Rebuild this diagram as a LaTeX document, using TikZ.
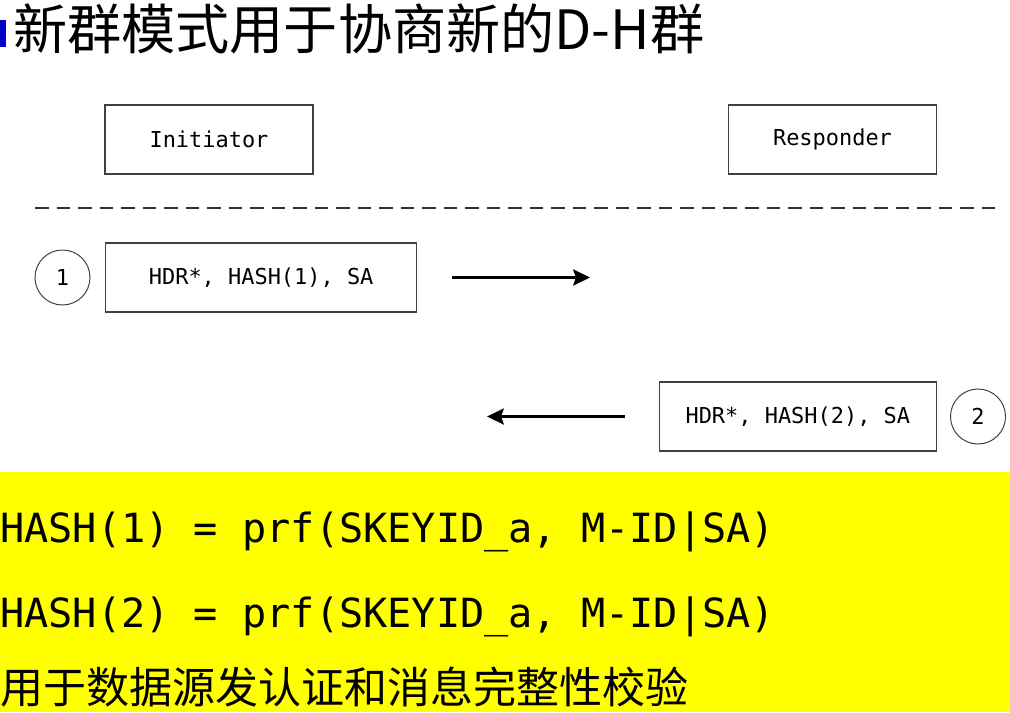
\documentclass[tikz,border=0pt]{standalone}
\usepackage{fontspec}
\setmonofont{DejaVu Sans Mono}
\newfontfamily\cjk{Noto Sans CJK SC}
\usetikzlibrary{arrows.meta}
\definecolor{notebg}{RGB}{255,255,0}
\definecolor{barblue}{RGB}{0,0,200}

\begin{document}
\begin{tikzpicture}[x=0.025cm, y=-0.025cm,
    box/.style={rectangle, draw=black!75, line width=0.9pt, minimum height=1.725cm, inner sep=0pt, font=\ttfamily\fontsize{15.6}{18}\selectfont},
    num/.style={circle, draw=black!75, line width=0.7pt, minimum size=1.375cm, inner sep=0pt, font=\ttfamily\fontsize{15.6}{18}\selectfont},
    msg/.style={-{Stealth[length=12pt, width=11.5pt, inset=2pt]}, line width=1.5pt},
    formula/.style={anchor=base west, inner sep=0pt, font=\ttfamily\fontsize{28.6}{34}\selectfont}]
    \useasboundingbox (0,0) rectangle (1010,712);
    \fill[notebg] (0,472) rectangle (1010,712);
    \fill[barblue] (0,20) rectangle (6,47);
    \draw
    node[anchor=base west, inner sep=0pt, font=\cjk\fontsize{38.5}{44}\selectfont](title)at(13,49){新群模式用于协商新的D-H群}
    node[box, minimum width=5.2cm](init)at(209,139.5){Initiator}
    node[box, minimum width=5.2cm](resp)at(832.5,139.5){Responder}
    node[num](n1)at(62.5,277.5){1}
    node[box, minimum width=7.775cm, anchor=west](m1)at(105,277.5){HDR*, HASH(1), SA}
    node[num](n2)at(978,416.5){2}
    node[box, minimum width=6.925cm, anchor=east](m2)at(937,416.5){HDR*, HASH(2), SA}
    ;
    % separator
    \draw[black!80, line width=1.6pt, dash pattern=on 9.6pt off 5.7pt] (35,208)--(1002,208);
    % messages
    \coordinate (m1s) at (452,277.5);
    \coordinate (m1e) at (590,277.5);
    \coordinate (m2s) at (625,416.5);
    \coordinate (m2e) at (487,416.5);
    \draw[msg] (m1s)--(m1e);
    \draw[msg] (m2s)--(m2e);
    % notes
    \node[formula](h1)at(0,542){HASH(1) = prf(SKEYID\_a, M-ID|SA)};
    \node[formula](h2)at(0,627){HASH(2) = prf(SKEYID\_a, M-ID|SA)};
    \node[anchor=base west, inner sep=0pt, font=\cjk\fontsize{30.6}{36}\selectfont](use)at(0,703){用于数据源发认证和消息完整性校验};
\end{tikzpicture}
\end{document}
